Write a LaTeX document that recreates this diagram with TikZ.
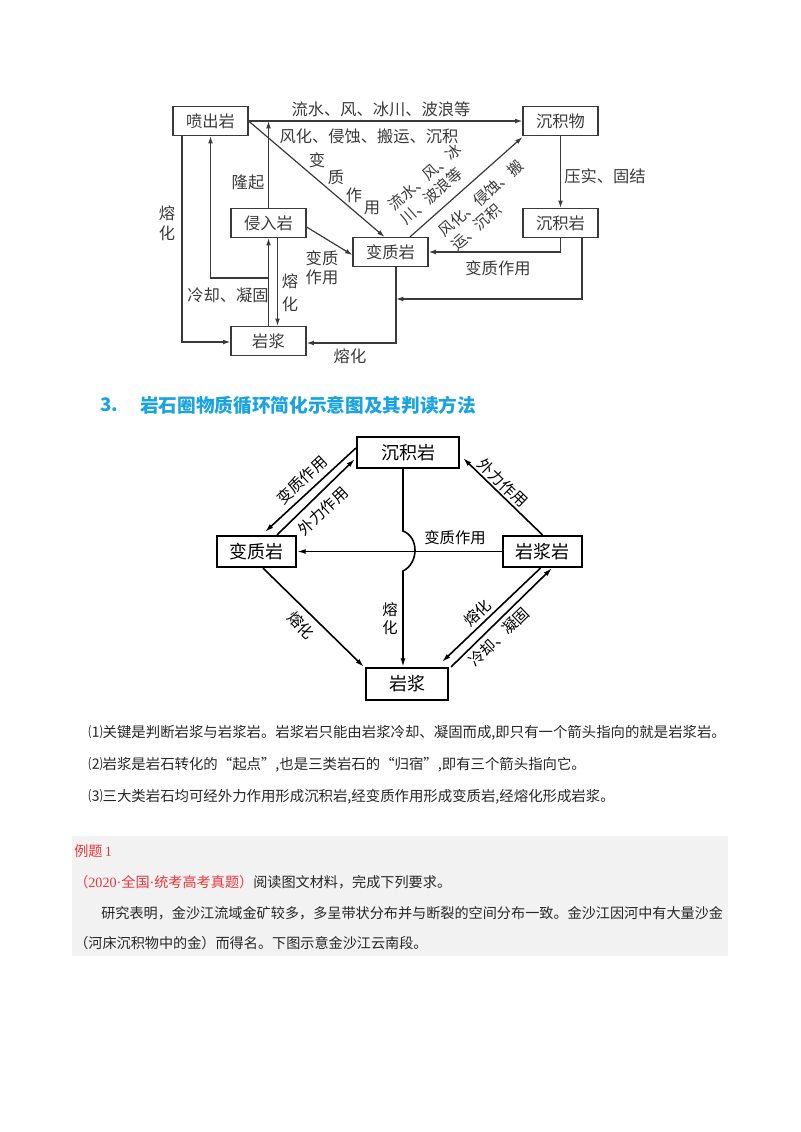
\documentclass[tikz,border=0pt]{standalone}
\usepackage{fontspec}
\setmainfont{Noto Sans CJK SC}
\newfontfamily\latinf{Liberation Serif}
\usetikzlibrary{arrows.meta,calc}
\definecolor{tgray}{HTML}{3A3A3A}
\definecolor{ttl}{HTML}{1AA3E0}
\definecolor{exred}{HTML}{E8383D}
\definecolor{boxbg}{HTML}{F2F2F2}
\newcommand\fTop{\fontsize{12.2pt}{14.5pt}\selectfont}
\newcommand\fTopRot{\fontsize{11.4pt}{13.6pt}\selectfont}
\newcommand\fMidBox{\fontsize{13.5pt}{15pt}\selectfont}
\newcommand\fMid{\fontsize{11.5pt}{13.5pt}\selectfont}
\newcommand\fPara{\fontsize{10.8pt}{13pt}\selectfont}
\newcommand\fEx{\fontsize{10.6pt}{13pt}\selectfont}
\newcommand\fTitle{\fontsize{14pt}{16pt}\selectfont}
\tikzset{
 tbox/.style={draw=tgray, line width=0.9pt, minimum width=56.25pt, minimum height=21.75pt, inner sep=0pt, font=\fTop, text=tgray},
 tarr/.style={draw=tgray, line width=0.9pt, -{Latex[length=5.5pt,width=3.6pt]}},
 tlab/.style={font=\fTop, text=tgray, inner sep=0pt},
 trot/.style={font=\fTopRot, text=tgray, inner sep=0pt, rotate=41.5, align=left},
 mbox/.style={draw, line width=1.6pt, minimum height=23.25pt, inner sep=0pt, font=\fMidBox},
 marr/.style={line width=1.2pt, -{Latex[length=6.5pt,width=3.8pt]}},
 mlab/.style={font=\fMid, inner sep=0pt},
 para/.style={font=\fPara, anchor=west, inner sep=0pt, text=black!85},
 expara/.style={font=\fEx, anchor=west, inner sep=0pt, text=black!85},
}
\begin{document}
\begin{tikzpicture}[x=0.75pt,y=-0.75pt]
\useasboundingbox (0,0) rectangle (800,1132);
\fill[white] (0,0) rectangle (800,1132);

% ---------------- top diagram ----------------
\node[tbox] (pen) at (210.5,121) {喷出岩};
\node[tbox] (cwu) at (560.5,121) {沉积物};
\node[tbox] (cyan) at (560.5,223) {沉积岩};
\node[tbox] (qr) at (268.5,223) {侵入岩};
\node[tbox] (bz) at (390.5,252) {变质岩};
\node[tbox] (yj) at (268.5,341) {岩浆};

\coordinate (bzdown) at ($(bz.south)+(5.5,0)$);
\coordinate (j1) at (396,299);
\coordinate (b1) at (268.5,278);

% 喷出岩 -> 沉积物
\draw[tarr] (pen.east) -- (cwu.west);
\node[tlab] at (381,109) {流水、风、冰川、波浪等};
\node[tlab] at (369,136) {风化、侵蚀、搬运、沉积};
% 侵入岩 -> (隆起)
\draw[tarr] (qr.north) -- (qr.north |- pen.east);
\node[tlab] at (248,182) {隆起};
% 喷出岩 -> 变质岩
\draw[tarr] (pen.east) -- ($(bz.north)+(-6,0)$);
\node[tlab] at (317,160) {变};
\node[tlab] at (336,177) {质};
\node[tlab] at (354,195) {作};
\node[tlab] at (372,208) {用};
% 变质岩 -> 沉积物
\draw[tarr] ($(bz.north)+(19.5,0)$) -- ($(cwu.south west)+(0,1)$);
\node[trot] at (431,184) {流水、风、冰\\川、波浪等};
\node[trot] at (487,205) {风化、侵蚀、搬\\运、沉积};
% 沉积物 -> 沉积岩
\draw[tarr] (cwu.south) -- (cyan.north);
\node[tlab] at (605,176) {压实、固结};
% 沉积岩 -> 变质岩
\draw[tarr] (cyan.south) |- (bz.east);
\node[tlab] at (498,268) {变质作用};
% 沉积岩 -> 岩浆 (joins)
\draw[tarr] ($(cyan.south)+(21.5,0)$) |- (j1);
% 变质岩 -> 岩浆
\draw[tarr] (bzdown) |- ($(yj.east)+(0,2)$);
\node[tlab] at (350,356) {熔化};
% 侵入岩 -> 变质岩
\draw[tarr] ($(qr.east)+(0,4)$) -- ($(bz.west)+(0,3)$);
\node[tlab] at (322,258) {变质};
\node[tlab] at (322,277) {作用};
% 岩浆 -> 侵入岩
\draw[tarr] (yj.north) -- (qr.south);
\draw[tarr] (b1) -| (pen.south);
\node[tlab] at (228,295) {冷却、凝固};
% 侵入岩 -> 岩浆
\draw[tarr] ($(qr.south)+(9,0)$) -- ($(yj.north)+(9,0)$);
\node[tlab] at (290,281) {熔};
\node[tlab] at (290,304) {化};
% 喷出岩 -> 岩浆
\draw[tarr] ($(pen.south)+(-28.5,0)$) |- ($(yj.west)+(0,1)$);
\node[tlab] at (167,213) {熔};
\node[tlab] at (167,233) {化};

% ---------------- title ----------------
\node[font=\fTitle\bfseries, text=ttl, anchor=west, inner sep=0pt] (t3) at (100,405) {3.};
\node[font=\fTitle\bfseries, text=ttl, anchor=west, inner sep=0pt] (ttext) at (140,405) {岩石圈物质循环简化示意图及其判读方法};

% ---------------- middle diagram ----------------
\node[mbox, minimum width=76.5pt] (mcj) at (408,452.5) {沉积岩};
\node[mbox, minimum width=59.25pt] (mbz) at (256.5,551.5) {变质岩};
\node[mbox, minimum width=59.25pt] (myjy) at (542.5,551.5) {岩浆岩};
\node[mbox, minimum width=61.5pt, minimum height=24pt] (myj) at (407,684) {岩浆};

% 沉积岩 -> 变质岩 (变质作用)
\draw[marr] ($(mcj.west)+(0,-4.5)$) -- ($(mbz.north)+(8.5,-3)$);
% 变质岩 -> 沉积岩 (外力作用)
\draw[marr] ($(mbz.north)+(20.5,0)$) -- ($(mcj.west)+(-1,6.5)$);
\node[mlab, rotate=43] at (302,480) {变质作用};
\node[mlab, rotate=43] at (323,511) {外力作用};
% 岩浆岩 -> 沉积岩
\draw[marr] (myjy.north) -- ($(mcj.east)+(3,5.5)$);
\node[mlab, rotate=-44] at (503,483) {外力作用};
% 岩浆岩 -> 变质岩
\draw[marr] (myjy.west) -- (mbz.east);
\node[mlab] at (455,538) {变质作用};
% 沉积岩 -> 岩浆 with bridge
\draw[marr] ($(mcj.south)+(-5,0)$) -- (403,531) .. controls (419,537) and (419,563) .. (403,571) -- ($(myj.north)+(-4,0)$);
\node[mlab] at (390,610) {熔};
\node[mlab] at (390,628) {化};
% 变质岩 -> 岩浆
\draw[marr] ($(mbz.south)+(6.5,0)$) -- ($(myj.north west)+(-1,0)$);
\node[mlab, rotate=-45] at (301,625) {熔化};
% 岩浆岩 -> 岩浆 (熔化)
\draw[marr] ($(myjy.south)+(-2,0)$) -- ($(myj.north)+(35,-5)$);
\node[mlab, rotate=44] at (477,613) {熔化};
% 岩浆 -> 岩浆岩 (冷却、凝固)
\draw[marr] ($(myj.north east)+(2,0)$) -- ($(myjy.south)+(9.5,0)$);
\node[mlab, rotate=44] at (499,637) {冷却、凝固};

% ---------------- paragraph ----------------
\node[para] (p1) at (88,733) {⑴关键是判断岩浆与岩浆岩。岩浆岩只能由岩浆冷却、凝固而成,即只有一个箭头指向的就是岩浆岩。};
\node[para] (p2) at (88,765) {⑵岩浆是岩石转化的“起点”,也是三类岩石的“归宿”,即有三个箭头指向它。};
\node[para] (p3) at (88,797) {⑶三大类岩石均可经外力作用形成沉积岩,经变质作用形成变质岩,经熔化形成岩浆。};

% ---------------- example box ----------------
\fill[boxbg] (72,836) rectangle (728,956);
\node[expara, text=exred] (e1) at (74,851) {例题{\latinf\,1}};
\node[expara] (e2) at (74,882) {\textcolor{exred}{（{\latinf 2020·}全国{\latinf ·}统考高考真题）}阅读图文材料，完成下列要求。};
\node[expara] (e3) at (101,913) {研究表明，金沙江流域金矿较多，多呈带状分布并与断裂的空间分布一致。金沙江因河中有大量沙金};
\node[expara] (e4) at (74,943) {（河床沉积物中的金）而得名。下图示意金沙江云南段。};
\end{tikzpicture}
\end{document}
